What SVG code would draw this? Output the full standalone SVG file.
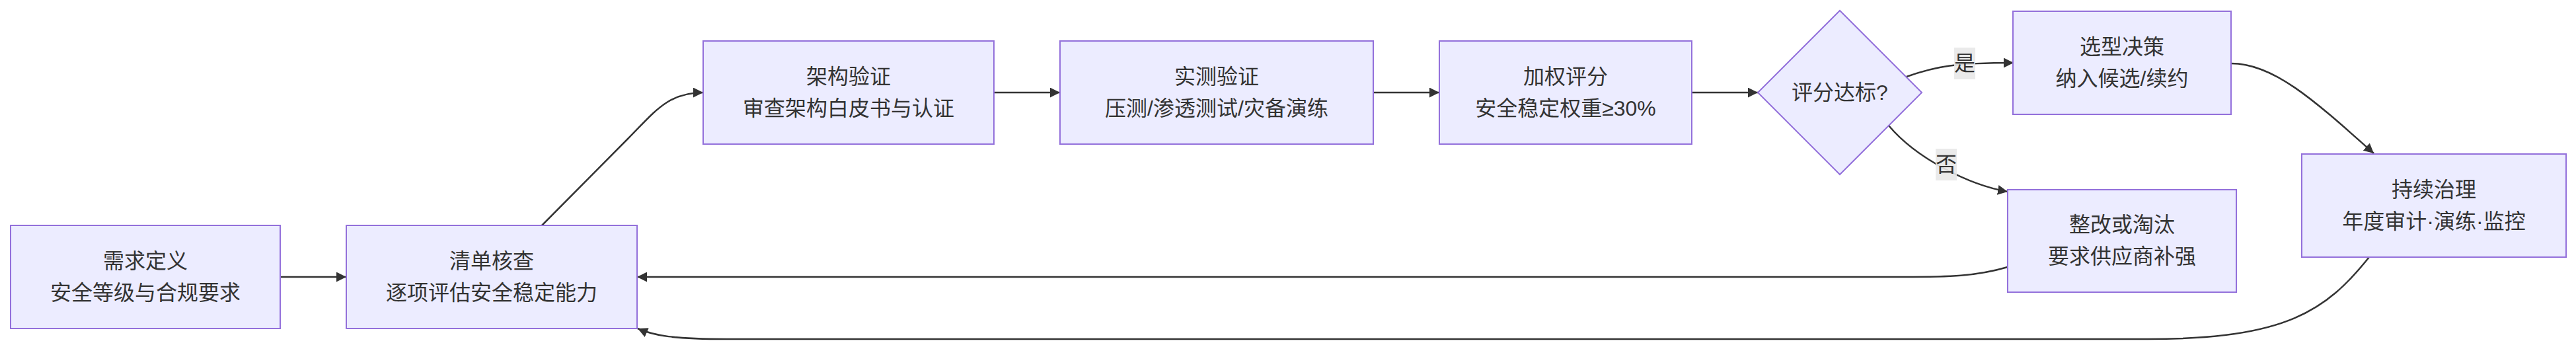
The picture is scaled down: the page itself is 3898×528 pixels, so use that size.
<svg xmlns="http://www.w3.org/2000/svg" width="3898" height="528" viewBox="0 0 3898 528">
<style>
.node rect,.node polygon{fill:#ECECFF;stroke:#9370DB;stroke-width:2}
.node text,.lbl text{font-family:"Liberation Sans","Noto Sans CJK SC",sans-serif;font-size:32px;fill:#333;text-anchor:middle;dominant-baseline:central}
.edge{fill:none;stroke:#333;stroke-width:2.5}
.lbl rect{fill:#e8e8e8;opacity:0.9}
</style>
<defs>
<marker id="arr" viewBox="0 0 10 10" refX="10" refY="5" markerWidth="15" markerHeight="15" markerUnits="userSpaceOnUse" orient="auto">
<path d="M0,0 L10,5 L0,10 z" fill="#333"/>
</marker>
</defs>
<rect width="3898" height="528" fill="#fff"/>
<g id="connectors">
<path class="edge" marker-end="url(#arr)" d="M424,419 L524,419"/>
<path class="edge" marker-end="url(#arr)" d="M820,341 L950,210 C990,170 1010,140 1064,140"/>
<path class="edge" marker-end="url(#arr)" d="M1504,140 L1604,140"/>
<path class="edge" marker-end="url(#arr)" d="M2078,140 L2178,140"/>
<path class="edge" marker-end="url(#arr)" d="M2560,140 L2660,140"/>
<path class="edge" marker-end="url(#arr)" d="M2885,116 C2930,100 2960,95 3047,95"/>
<path class="edge" marker-end="url(#arr)" d="M2858,190 C2900,240 2980,280 3038,290"/>
<path class="edge" marker-end="url(#arr)" d="M3376,96 C3440,96 3500,150 3592,232"/>
<path class="edge" marker-end="url(#arr)" d="M3038,404 C2990,418 2950,419 2880,419 L964,419"/>
<path class="edge" marker-end="url(#arr)" d="M3585,389 C3520,470 3460,513 3250,513 L1100,513 C1020,513 990,508 965,497"/>
<g class="lbl"><rect x="2957" y="72" width="32" height="48"/><text x="2973" y="96">是</text></g>
<g class="lbl"><rect x="2929" y="225" width="32" height="48"/><text x="2945" y="249">否</text></g>
</g>
<g id="nodeA" class="node"><rect x="16" y="341" width="408" height="156"/><text x="220" y="395">需求定义</text><text x="220" y="443">安全等级与合规要求</text></g>
<g id="nodeB" class="node"><rect x="524" y="341" width="440" height="156"/><text x="744" y="395">清单核查</text><text x="744" y="443">逐项评估安全稳定能力</text></g>
<g id="nodeC" class="node"><rect x="1064" y="62" width="440" height="156"/><text x="1284" y="116">架构验证</text><text x="1284" y="164">审查架构白皮书与认证</text></g>
<g id="nodeD" class="node"><rect x="1604" y="62" width="474" height="156"/><text x="1841" y="116">实测验证</text><text x="1841" y="164">压测/渗透测试/灾备演练</text></g>
<g id="nodeE" class="node"><rect x="2178" y="62" width="382" height="156"/><text x="2369" y="116">加权评分</text><text x="2369" y="164">安全稳定权重≥30%</text></g>
<g id="nodeF" class="node"><polygon points="2784,16 2908,140 2784,264 2660,140"/><text x="2784" y="140">评分达标?</text></g>
<g id="nodeG" class="node"><rect x="3046" y="17" width="330" height="156"/><text x="3211" y="71">选型决策</text><text x="3211" y="119">纳入候选/续约</text></g>
<g id="nodeH" class="node"><rect x="3038" y="287" width="346" height="155"/><text x="3211" y="340">整改或淘汰</text><text x="3211" y="388">要求供应商补强</text></g>
<g id="nodeI" class="node"><rect x="3483" y="233" width="400" height="156"/><text x="3683" y="287">持续治理</text><text x="3683" y="335">年度审计·演练·监控</text></g>
</svg>
